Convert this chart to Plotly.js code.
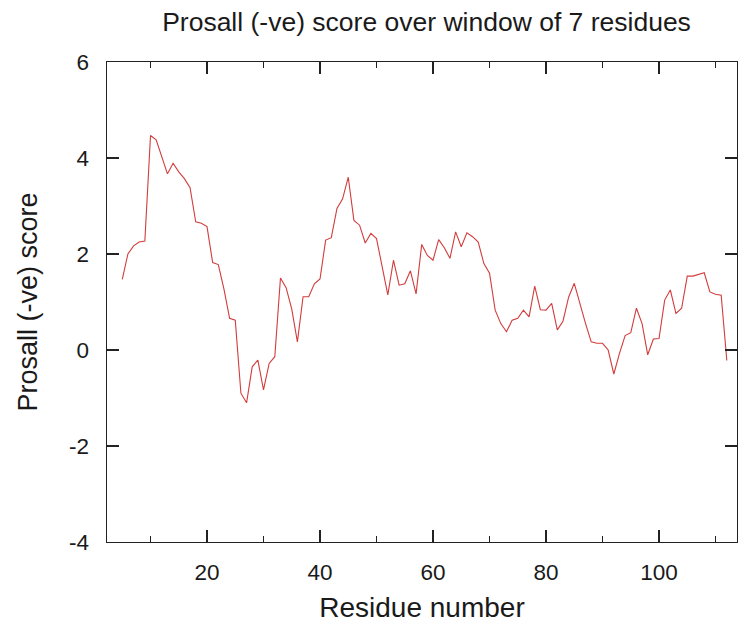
<!DOCTYPE html>
<html>
<head>
<meta charset="utf-8">
<script src="https://cdn.plot.ly/plotly-3.0.1.min.js"></script>
<style>html,body{margin:0;padding:0;background:#fff;}#chart{width:741px;height:628px;}</style>
</head>
<body>
<div id="chart"></div>
<script>
const residues = [5,6,7,8,9,10,11,12,13,14,15,16,17,18,19,20,21,22,23,24,25,26,27,28,29,30,31,32,33,34,35,36,37,38,39,40,41,42,43,44,45,46,47,48,49,50,51,52,53,54,55,56,57,58,59,60,61,62,63,64,65,66,67,68,69,70,71,72,73,74,75,76,77,78,79,80,81,82,83,84,85,86,87,88,89,90,91,92,93,94,95,96,97,98,99,100,101,102,103,104,105,106,107,108,109,110,111,112];
const scores = [1.47,2.0,2.17,2.25,2.27,4.47,4.38,4.0,3.67,3.89,3.71,3.57,3.38,2.67,2.64,2.57,1.82,1.78,1.27,0.66,0.62,-0.9,-1.1,-0.35,-0.21,-0.83,-0.28,-0.14,1.5,1.3,0.85,0.17,1.11,1.11,1.38,1.48,2.29,2.34,2.95,3.15,3.6,2.7,2.6,2.23,2.43,2.32,1.7,1.15,1.87,1.35,1.38,1.65,1.17,2.2,1.97,1.87,2.3,2.13,1.91,2.46,2.15,2.44,2.36,2.25,1.8,1.6,0.83,0.55,0.38,0.62,0.66,0.83,0.69,1.33,0.84,0.83,0.97,0.42,0.6,1.1,1.39,0.95,0.55,0.17,0.14,0.14,0.0,-0.5,-0.07,0.3,0.36,0.87,0.55,-0.1,0.23,0.24,1.04,1.25,0.76,0.87,1.54,1.54,1.58,1.61,1.21,1.16,1.14,-0.22];
const xTickVals = [20,40,60,80,100];
const yTickVals = [-4,-2,0,2,4,6];
const titleText = "Prosall (-ve) score over window of 7 residues";
const xTitle = "Residue number";
const yTitle = "Prosall (-ve) score";

const font = "Liberation Sans, Arial, Helvetica, sans-serif";
const axisCommon = {
  showgrid: false, zeroline: false, showline: true, linecolor: '#222', linewidth: 1.4,
  mirror: 'allticks', ticks: 'inside', ticklen: 12, tickwidth: 1.4, tickcolor: '#222',
  tickfont: {family: font, size: 22.5, color: '#1a1a1a'}
};
Plotly.newPlot('chart', [{
  x: residues, y: scores, type: 'scatter', mode: 'lines',
  line: {color: '#d23c3c', width: 1.1}, hoverinfo: 'skip'
}], {
  width: 741, height: 628,
  margin: {l: 107, r: 4, t: 62, b: 86},
  paper_bgcolor: '#fff', plot_bgcolor: '#fff',
  showlegend: false,
  title: {text: titleText, font: {family: font, size: 26.5, color: '#1a1a1a'}, x: 0.5756, xanchor: 'center', y: 0.965, yanchor: 'middle'},
  xaxis: Object.assign({}, axisCommon, {
    range: [2.3, 113.8], tickvals: xTickVals, ticktext: xTickVals.map(String),
    ticklabelstandoff: 10,
    minor: {tickvals: [10,30,50,70,90,110], ticks: 'inside', ticklen: 6, tickwidth: 1.4, tickcolor: '#222'},
    title: {text: xTitle, font: {family: font, size: 28, color: '#1a1a1a'}, standoff: 13}
  }),
  yaxis: Object.assign({}, axisCommon, {
    range: [-4, 6], tickvals: yTickVals, ticktext: yTickVals.map(String),
    ticklabelstandoff: 12,
    title: {text: yTitle, font: {family: font, size: 27, color: '#1a1a1a'}, standoff: 23}
  })
}, {staticPlot: true});
</script>
</body>
</html>
